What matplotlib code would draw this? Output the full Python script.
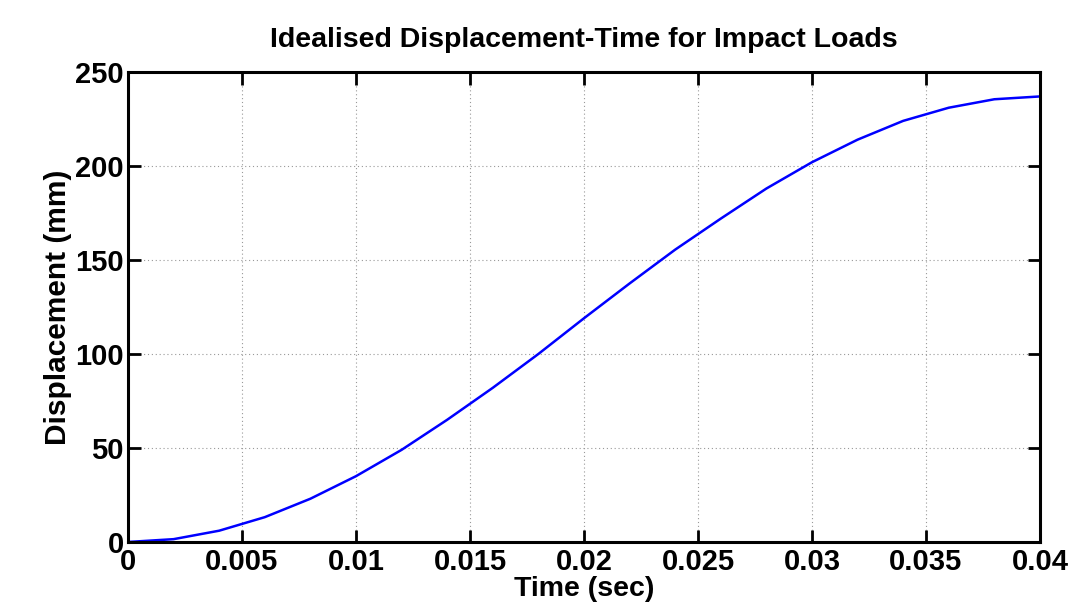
import numpy as np
import matplotlib
matplotlib.use('Agg')
import matplotlib.pyplot as plt

# values, every 0.002 s
time_s = [0.000, 0.002, 0.004, 0.006, 0.008, 0.010, 0.012, 0.014, 0.016, 0.018, 0.020,
          0.022, 0.024, 0.026, 0.028, 0.030, 0.032, 0.034, 0.036, 0.038, 0.040]
disp_mm = [0.0, 1.5, 6.0, 13.2, 23.0, 35.0, 49.0, 65.0, 82.0, 100.0, 119.0,
           137.5, 155.5, 172.0, 188.0, 202.0, 214.0, 224.0, 231.0, 235.5, 237.0]
x_ticks = [0, 0.005, 0.01, 0.015, 0.02, 0.025, 0.03, 0.035, 0.04]
x_labels = ['0', '0.005', '0.01', '0.015', '0.02', '0.025', '0.03', '0.035', '0.04']
y_ticks = [0, 50, 100, 150, 200, 250]

plt.rcParams['font.family'] = ['Liberation Sans', 'DejaVu Sans']

fig = plt.figure(figsize=(10.71, 6.03), dpi=100)
ax = fig.add_axes([0.1195, 0.1012, 0.8515, 0.7794])

ax.plot(time_s, disp_mm, color='#0000ff', lw=1.8)

ax.set_xlim(0, 0.04)
ax.set_ylim(0, 250)
ax.set_xticks(x_ticks)
ax.set_xticklabels(x_labels)
ax.set_yticks(y_ticks)
ax.grid(True, color='#999999', linestyle=(0, (1, 2.5)), linewidth=0.8)
ax.tick_params(direction='in', length=9, width=2, top=True, right=True,
               labelsize=21, pad=3)
ax.tick_params(axis='x', pad=4)
for lab in ax.get_xticklabels() + ax.get_yticklabels():
    lab.set_fontweight('bold')
for s in ax.spines.values():
    s.set_linewidth(2.2)

ax.set_title('Idealised Displacement-Time for Impact Loads', fontsize=20.5,
             fontweight='bold', pad=18)
ax.set_xlabel('Time (sec)', fontsize=20.5, fontweight='bold', labelpad=0)
ax.set_ylabel('Displacement (mm)', fontsize=21.5, fontweight='bold', labelpad=2)

fig.savefig('out.png', dpi=100)
